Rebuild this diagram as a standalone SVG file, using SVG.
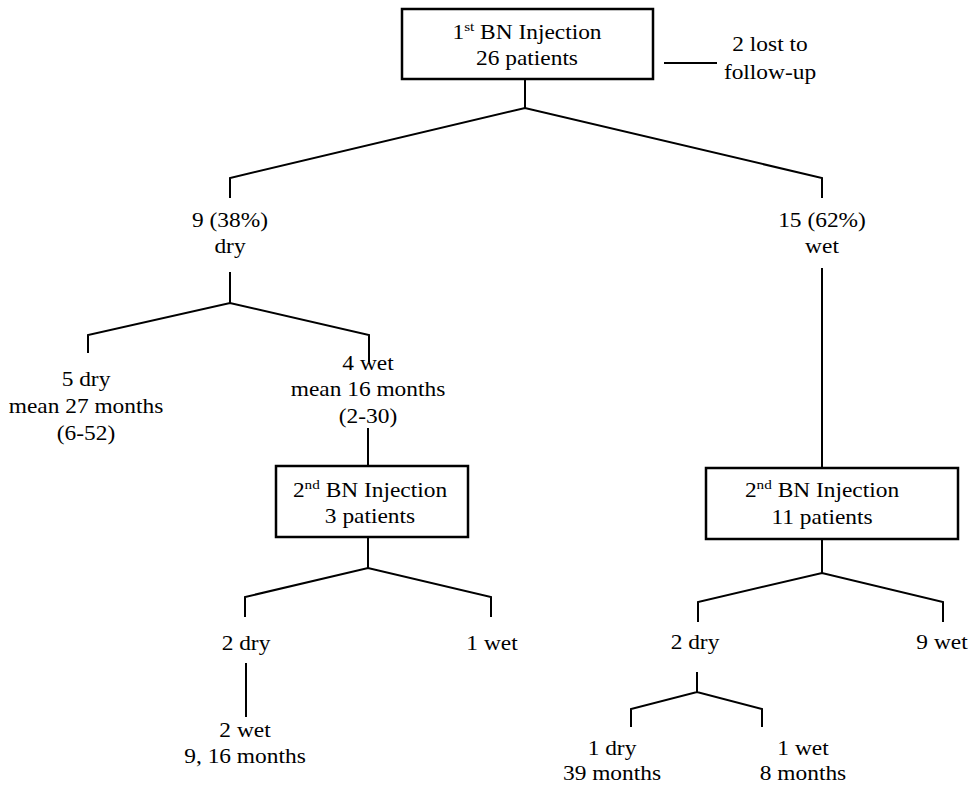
<svg xmlns="http://www.w3.org/2000/svg" width="971" height="788" viewBox="0 0 971 788">
<style>
text{font-family:'Liberation Serif','Times New Roman',Times,'DejaVu Serif',serif;font-size:20px;fill:#000;text-anchor:middle}
.sup{font-size:13px}
.ln{stroke:#000;stroke-width:2;fill:none}
.box{stroke:#000;stroke-width:2.5;fill:#fff}
</style>
<rect width="971" height="788" fill="#fff"/>
<g id="connectors">
<path class="ln" d="M525,79 V108 M230,198 V178 L525,108 L822,178 V198"/>
<path class="ln" d="M664,63 H717"/>
<path class="ln" d="M230,272 V303 M88,353 V335 L230,303 L369,335 V362"/>
<path class="ln" d="M368,428 V466"/>
<path class="ln" d="M822,268 V468"/>
<path class="ln" d="M368,537 V568 M245,617 V597 L368,568 L491,597 V617"/>
<path class="ln" d="M246,663 V717"/>
<path class="ln" d="M822,539 V573 M698,622 V602 L822,573 L943,602 V622"/>
<path class="ln" d="M697,672 V692 M631,727 V709 L697,692 L762,709 V727"/>
</g>
<g font-family="Liberation Serif, DejaVu Serif, serif">
<g id="inj1">
<rect class="box" x="402" y="9" width="251" height="70"/>
<text transform="translate(527,39) scale(1.17,1)"><tspan x="0">1<tspan class="sup" dy="-8">st</tspan><tspan dy="8"> BN Injection</tspan></tspan><tspan x="0" dy="26">26 patients</tspan></text>
</g>
<g id="lost">
<text transform="translate(770,51) scale(1.17,1)"><tspan x="0">2 lost to</tspan><tspan x="0" dy="28">follow-up</tspan></text>
</g>
<g id="dry1">
<text transform="translate(230,227) scale(1.17,1)"><tspan x="0">9 (38%)</tspan><tspan x="0" dy="26">dry</tspan></text>
</g>
<g id="wet1">
<text transform="translate(822,227) scale(1.17,1)"><tspan x="0">15 (62%)</tspan><tspan x="0" dy="26">wet</tspan></text>
</g>
<g id="dry1a">
<text transform="translate(86,386) scale(1.17,1)"><tspan x="0">5 dry</tspan><tspan x="0" dy="27">mean 27 months</tspan><tspan x="0" dy="27">(6-52)</tspan></text>
</g>
<g id="wet1a">
<text transform="translate(368,370) scale(1.17,1)"><tspan x="0">4 wet</tspan><tspan x="0" dy="26">mean 16 months</tspan><tspan x="0" dy="27">(2-30)</tspan></text>
</g>
<g id="inj2a">
<rect class="box" x="276" y="466" width="192" height="71"/>
<text transform="translate(370,497) scale(1.17,1)"><tspan x="0">2<tspan class="sup" dy="-8">nd</tspan><tspan dy="8"> BN Injection</tspan></tspan><tspan x="0" dy="26">3 patients</tspan></text>
</g>
<g id="inj2b">
<rect class="box" x="706" y="468" width="252" height="71"/>
<text transform="translate(822,497) scale(1.17,1)"><tspan x="0">2<tspan class="sup" dy="-8">nd</tspan><tspan dy="8"> BN Injection</tspan></tspan><tspan x="0" dy="27">11 patients</tspan></text>
</g>
<g id="dry2a">
<text transform="translate(246,650) scale(1.17,1)">2 dry</text>
</g>
<g id="wet2a">
<text transform="translate(492,650) scale(1.17,1)">1 wet</text>
</g>
<g id="wet2a2">
<text transform="translate(245,737) scale(1.17,1)"><tspan x="0">2 wet</tspan><tspan x="0" dy="26">9, 16 months</tspan></text>
</g>
<g id="dry2b">
<text transform="translate(695,649) scale(1.17,1)">2 dry</text>
</g>
<g id="wet2b">
<text transform="translate(942,649) scale(1.17,1)">9 wet</text>
</g>
<g id="dry3">
<text transform="translate(612,755) scale(1.17,1)"><tspan x="0">1 dry</tspan><tspan x="0" dy="25">39 months</tspan></text>
</g>
<g id="wet3">
<text transform="translate(803,755) scale(1.17,1)"><tspan x="0">1 wet</tspan><tspan x="0" dy="25">8 months</tspan></text>
</g>
</g>
</svg>
